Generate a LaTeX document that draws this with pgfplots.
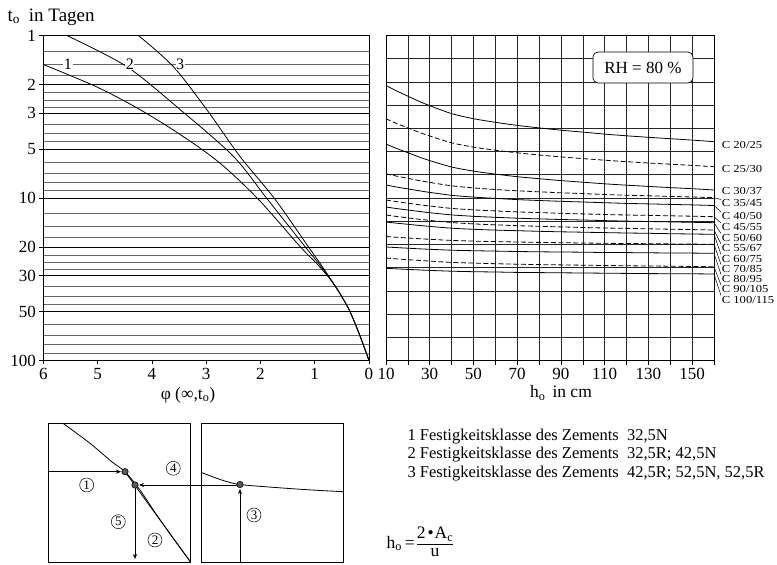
\documentclass[border=0pt]{standalone}
\usepackage{amsmath}
\usepackage{pgfplots}
\pgfplotsset{compat=1.18}
\usepackage{pgfplotstable}
\usepackage{fontspec}
\setmainfont{Liberation Serif}
\usetikzlibrary{arrows.meta}

\pgfplotstableread{
h   c20   c25   c30   c35   c40   c45   c50   c55   c60   c70   c80   c90   c100
10  85.5  118.8 144.0 173.8 185.0 200.0 207.0 215.0 222.0 236.5 247.0 258.0 268.3
15  91.1  123.6 148.6 176.2 187.1 201.7 208.6 216.5 223.2 237.3 247.6 258.9 268.9
20  96.2  127.9 152.7 178.3 188.9 203.2 210.0 217.9 224.3 238.0 248.2 259.7 269.4
25  101.2 132.2 156.9 180.5 190.7 204.7 211.4 219.2 225.4 238.7 248.8 260.4 269.9
30  105.7 136.0 160.6 182.4 192.4 206.0 212.7 220.4 226.4 239.3 249.3 261.1 270.4
40  113.6 142.8 167.0 185.8 195.3 208.4 214.9 222.5 228.2 240.4 250.2 262.4 271.2
50  118.7 147.1 171.1 187.9 197.1 209.9 216.3 223.9 229.3 241.1 250.7 263.1 271.7
60  122.3 150.2 174.1 189.5 198.4 210.9 217.3 224.8 230.1 241.6 251.1 263.7 272.0
70  125.4 152.8 176.7 190.8 199.6 211.9 218.2 225.7 230.7 242.0 251.5 264.2 272.4
80  127.9 155.0 178.7 191.8 200.5 212.6 218.9 226.3 231.3 242.4 251.8 264.6 272.6
90  130.2 156.9 180.6 192.8 201.3 213.3 219.5 226.9 231.8 242.7 252.0 264.9 272.8
100 132.1 158.6 182.2 193.6 202.0 213.9 220.0 227.5 232.2 243.0 252.2 265.2 273.0
110 134.1 160.2 183.8 194.5 202.7 214.5 220.6 228.0 232.6 243.3 252.5 265.5 273.2
120 135.8 161.7 185.2 195.2 203.4 215.0 221.1 228.4 233.0 243.5 252.6 265.8 273.4
130 137.3 163.0 186.4 195.8 203.9 215.4 221.5 228.8 233.3 243.7 252.8 266.0 273.6
140 138.7 164.2 187.6 196.4 204.4 215.8 221.9 229.2 233.7 243.9 253.0 266.2 273.7
150 140.1 165.4 188.7 197.0 204.9 216.2 222.3 229.6 234.0 244.1 253.1 266.5 273.8
160 141.7 166.7 190.0 197.7 205.5 216.7 222.7 230.0 234.3 244.3 253.3 266.7 274.0
}\classdata

\tikzset{
  sol/.style={black, line width=0.8pt, smooth},
  das/.style={black, line width=0.8pt, smooth, dash pattern=on 5pt off 2.5pt},
  cnum/.style={circle, draw, line width=0.5pt, minimum size=14pt, inner sep=0pt, font=\fontsize{13}{13}\selectfont},
  clab/.style={anchor=west, inner sep=0pt, font=\fontsize{12.6}{12.6}\selectfont},
  lead/.style={line width=0.5pt},
  arr/.style={line width=0.6pt, -{Stealth[length=5pt,width=4pt]}},
}
\newcommand{\cl}[1]{\scalebox{1}[0.85]{#1}}

\begin{document}
\begin{tikzpicture}
\useasboundingbox (0pt,0pt) rectangle (777pt,565pt);

% ---------------- left chart
\begin{axis}[
  at={(43.5pt,204.5pt)}, anchor=south west, scale only axis,
  width=325.5pt, height=325pt,
  xmin=0, xmax=6, x dir=reverse,
  ymode=log, ymin=1, ymax=100, y dir=reverse,
  xtick={0,1,2,3,4,5,6}, xticklabels={0,1,2,3,4,5,6},
  ytick={1,2,3,5,10,20,30,50,100},
  yticklabels={1,2,3,5,10,20,30,50,100},
  minor ytick={1.25,1.5,1.75,2.25,2.5,2.75,3.5,4,4.5,6,7,8,9,12.5,15,17.5,22.5,25,27.5,35,40,45,60,70,80,90},
  ymajorgrids, yminorgrids,
  major grid style={black, line width=0.6pt},
  minor grid style={black!60, line width=0.6pt},
  tick align=outside, major tick length=4pt, minor tick length=0pt,
  xtick pos=left, ytick pos=left,
  tick style={black, line width=0.6pt},
  axis line style={line width=0.8pt},
  tick label style={font=\fontsize{17}{17}\selectfont},
  /pgf/number format/assume math mode=true,
  clip=false,
]
\addplot[sol] coordinates {(6,1.51) (5.02,2.07) (4.22,2.86) (3.45,4.13) (2.75,6.09) (2.05,10.1) (1.27,19.9) (0.98,25) (0.77,30) (0.62,35) (0.51,40) (0.35,50) (0.17,70) (0,100)};
\addplot[sol] coordinates {(5.57,1) (4.47,1.55) (3.48,2.86) (2.50,5.54) (1.88,10.1) (1.18,19.9) (0.94,25) (0.76,30) (0.62,35) (0.51,40) (0.35,50) (0.17,70) (0,100)};
\addplot[sol] coordinates {(4.25,1) (3.61,1.55) (2.99,2.86) (2.38,5.54) (1.74,10.1) (1.12,19.9) (0.91,25) (0.75,30) (0.62,35) (0.51,40) (0.35,50) (0.17,70) (0,100)};
\node[fill=white, inner sep=0.6pt, font=\fontsize{16}{16}\selectfont] at (axis cs:5.55,1.5) {1};
\node[fill=white, inner sep=0.6pt, font=\fontsize{16}{16}\selectfont] at (axis cs:4.41,1.5) {2};
\node[fill=white, inner sep=0.6pt, font=\fontsize{16}{16}\selectfont] at (axis cs:3.48,1.5) {3};
\end{axis}

% ---------------- right chart
\begin{axis}[
  at={(386pt,204.5pt)}, anchor=south west, scale only axis,
  width=328pt, height=325pt,
  xmin=10, xmax=160, ymin=35.5, ymax=360.5, y dir=reverse,
  xtick={10,30,50,70,90,110,130,150},
  xticklabels={10,30,50,70,90,110,130,150},
  minor xtick={20,40,60,80,100,120,140,160},
  ytick={35.5,58.71,81.93,105.14,128.36,151.57,174.79,198.0,221.21,244.43,267.64,290.86,314.07,337.29,360.5},
  yticklabels={},
  xmajorgrids, xminorgrids, ymajorgrids,
  major grid style={black!85, line width=0.6pt},
  minor grid style={black!85, line width=0.6pt},
  tick align=outside, major tick length=4pt, minor tick length=4pt,
  xtick pos=left,
  ytick style={draw=none},
  xtick style={black, line width=0.6pt},
  axis line style={line width=0.8pt},
  tick label style={font=\fontsize{17}{17}\selectfont},
  /pgf/number format/assume math mode=true,
  clip=false,
]
\addplot[sol] table[x=h,y=c20] {\classdata};
\addplot[das] table[x=h,y=c25] {\classdata};
\addplot[sol] table[x=h,y=c30] {\classdata};
\addplot[das] table[x=h,y=c35] {\classdata};
\addplot[sol] table[x=h,y=c40] {\classdata};
\addplot[das] table[x=h,y=c45] {\classdata};
\addplot[sol] table[x=h,y=c50] {\classdata};
\addplot[das] table[x=h,y=c55] {\classdata};
\addplot[sol] table[x=h,y=c60] {\classdata};
\addplot[das] table[x=h,y=c70] {\classdata};
\addplot[sol] table[x=h,y=c80] {\classdata};
\addplot[das] table[x=h,y=c90] {\classdata};
\addplot[sol] table[x=h,y=c100] {\classdata};

\node[draw, fill=white, rounded corners=5pt, line width=0.7pt, minimum width=100pt, minimum height=31pt, inner sep=0pt, font=\fontsize{17}{17}\selectfont] at (axis cs:127.5,67.5) {RH = 80 \%};

\node[clab] at (axis cs:163.5,145) {\cl{C 20/25}};
\node[clab] at (axis cs:163.5,169) {\cl{C 25/30}};
\node[clab] at (axis cs:163.5,191) {\cl{C 30/37}};
\node[clab] at (axis cs:163.5,203.5) {\cl{C 35/45}};
\node[clab] at (axis cs:163.5,216) {\cl{C 40/50}};
\node[clab] at (axis cs:163.5,227) {\cl{C 45/55}};
\node[clab] at (axis cs:163.5,237.5) {\cl{C 50/60}};
\node[clab] at (axis cs:163.5,248) {\cl{C 55/67}};
\node[clab] at (axis cs:163.5,258.5) {\cl{C 60/75}};
\node[clab] at (axis cs:163.5,268.5) {\cl{C 70/85}};
\node[clab] at (axis cs:163.5,278.5) {\cl{C 80/95}};
\node[clab] at (axis cs:163.5,289) {\cl{C 90/105}};
\node[clab] at (axis cs:163.5,299.5) {\cl{C 100/115}};
\draw[lead] (axis cs:160,197.7) -- (axis cs:163.2,199.5);
\draw[lead] (axis cs:160,205.5) -- (axis cs:163.2,212);
\draw[lead] (axis cs:160,216.7) -- (axis cs:163.2,223);
\draw[lead] (axis cs:160,222.7) -- (axis cs:163.2,233.5);
\draw[lead] (axis cs:160,230.0) -- (axis cs:163.2,244);
\draw[lead] (axis cs:160,234.3) -- (axis cs:163.2,254.5);
\draw[lead] (axis cs:160,244.3) -- (axis cs:163.2,264.5);
\draw[lead] (axis cs:160,253.3) -- (axis cs:163.2,274.5);
\draw[lead] (axis cs:160,266.7) -- (axis cs:163.2,285);
\draw[lead] (axis cs:160,274.0) -- (axis cs:163.2,295.5);
\end{axis}

% axis titles
\node[anchor=west, font=\fontsize{19}{19}\selectfont] at (4pt,548pt) {t\textsubscript{o}\hspace{9pt}in Tagen};
\node[font=\fontsize{17.5}{17.5}\selectfont] at (188pt,170pt) {φ (∞,t\textsubscript{o})};
\node[font=\fontsize{17.5}{17.5}\selectfont] at (561pt,172pt) {h\textsubscript{o}\hspace{7pt}in cm};

% ---------------- small left diagram
\begin{axis}[
  at={(48.3pt,3pt)}, anchor=south west, scale only axis,
  width=142.2pt, height=138.5pt,
  xmin=48.3, xmax=190.5, ymin=423.5, ymax=562, y dir=reverse,
  ticks=none, clip=false, axis line style={line width=0.8pt},
]
\addplot[sol] coordinates {(63.3,423.5) (90,443.3) (111.7,461.7) (125,471.7) (140,490) (156.7,515) (173.3,538.3) (190.5,562)};
\addplot[black, line width=0.8pt] coordinates {(125,471.7) (190.5,562)};
\addplot[arr] coordinates {(48.3,471.7) (121,471.7)};
\addplot[arr] coordinates {(240,485) (139,485)};
\addplot[arr] coordinates {(135,485) (135,559)};
\addplot[only marks, mark=*, mark size=3.2pt, mark options={fill=black!65, draw=black, line width=0.6pt}] coordinates {(125,471.7) (135,485)};
\node[cnum] at (axis cs:86.7,485) {1};
\node[cnum] at (axis cs:173.3,468.3) {4};
\node[cnum] at (axis cs:118.3,521.7) {5};
\node[cnum] at (axis cs:155,540) {2};
\end{axis}

% ---------------- small right diagram
\begin{axis}[
  at={(201pt,3pt)}, anchor=south west, scale only axis,
  width=142.3pt, height=138.5pt,
  xmin=201, xmax=343.3, ymin=423.5, ymax=562, y dir=reverse,
  ticks=none, clip=false, axis line style={line width=0.8pt},
]
\addplot[sol] coordinates {(201,472.3) (221.7,480) (240,484.5) (278.3,487.7) (311.7,490) (343.3,491.7)};
\addplot[arr] coordinates {(240,562) (240,489)};
\addplot[only marks, mark=*, mark size=3.2pt, mark options={fill=black!65, draw=black, line width=0.6pt}] coordinates {(240,484.5)};
\node[cnum] at (axis cs:254,515) {3};
\end{axis}

% ---------------- legend text and formula
\node[anchor=west, font=\fontsize{16.5}{16.5}\selectfont] at (404pt,128pt) {1 Festigkeitsklasse des Zements\ \ 32,5N};
\node[anchor=west, font=\fontsize{16.5}{16.5}\selectfont] at (404pt,110pt) {2 Festigkeitsklasse des Zements\ \ 32,5R; 42,5N};
\node[anchor=west, font=\fontsize{16.5}{16.5}\selectfont] at (404pt,91pt) {3 Festigkeitsklasse des Zements\ \ 42,5R; 52,5N, 52,5R};
\node[anchor=west, font=\fontsize{17.5}{17.5}\selectfont] at (383pt,21pt) {h\textsubscript{o}\hspace{3pt}=\hspace{2pt}{\renewcommand\arraystretch{1.0}\begin{tabular}{@{}c@{}}2\hspace{2pt}•\hspace{1pt}A\textsubscript{c}\\\hline u\end{tabular}}};
\end{tikzpicture}
\end{document}
